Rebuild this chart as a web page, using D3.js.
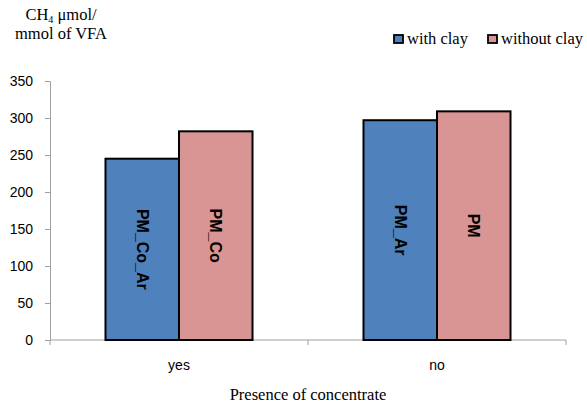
<!DOCTYPE html>
<html><head><meta charset="utf-8">
<script src="https://cdn.jsdelivr.net/npm/d3@7"></script>
<style>body{margin:0;background:#fff}</style>
</head><body>
<svg id="c" width="587" height="406"></svg>
<script>
const categories = ["yes", "no"];
const seriesNames = ["with clay", "without clay"];
const withClay = [245, 297];
const withoutClay = [282, 309];
const barLabels = [["PM_Co_Ar", "PM_Co"], ["PM_Ar", "PM"]];
const yTicks = [0, 50, 100, 150, 200, 250, 300, 350];
const colors = ["#4F81BD", "#D99594"];

const svg = d3.select("#c");
const m = {l: 50, r: 21, t: 81, b: 66};
const W = 587, H = 406;
const x = d3.scaleBand().domain(categories).range([m.l, W - m.r]).paddingInner(0).paddingOuter(0);
const x1 = d3.scaleBand().domain([0, 1]).range([0, x.bandwidth()]).paddingInner(0).paddingOuter(0.755);
const y = d3.scaleLinear().domain([0, 350]).range([H - m.b, m.t]);

const data = categories.map((c, i) => ({c, vals: [withClay[i], withoutClay[i]], labels: barLabels[i]}));

// axes
const yAxis = svg.append("g").attr("transform", `translate(${m.l},0)`)
  .call(d3.axisLeft(y).tickValues(yTicks).tickSize(5).tickPadding(12));
yAxis.select(".domain").attr("stroke", "#a0a0a0").attr("stroke-width", 1);
yAxis.selectAll(".tick line").attr("stroke", "#a0a0a0");
yAxis.selectAll("text").attr("font-family", "Liberation Sans, Arial, sans-serif").attr("font-size", 14).attr("fill", "#000");

const xAxisG = svg.append("g").attr("transform", `translate(0,${H - m.b})`);
xAxisG.append("line").attr("x1", m.l).attr("x2", W - m.r).attr("stroke", "#a0a0a0");
const bounds = [m.l, x("no"), W - m.r];
bounds.forEach(b => xAxisG.append("line").attr("x1", b).attr("x2", b).attr("y1", 0).attr("y2", 5).attr("stroke", "#a0a0a0"));
categories.forEach(c => xAxisG.append("text").attr("x", x(c) + x.bandwidth() / 2).attr("y", 30)
  .attr("text-anchor", "middle").attr("font-family", "Liberation Sans, Arial, sans-serif").attr("font-size", 14).text(c));

// bars
const g = svg.selectAll(".grp").data(data).enter().append("g").attr("transform", d => `translate(${x(d.c)},0)`);
g.selectAll("rect").data(d => d.vals.map((v, j) => ({v, j}))).enter().append("rect")
  .attr("x", d => x1(d.j)).attr("width", x1.bandwidth())
  .attr("y", d => y(d.v)).attr("height", d => y(0) - y(d.v))
  .attr("fill", d => colors[d.j]).attr("stroke", "#000").attr("stroke-width", 2);
g.selectAll("text.lbl").data(d => d.vals.map((v, j) => ({v, j, t: d.labels[j]}))).enter().append("text")
  .attr("class", "lbl")
  .attr("transform", d => `translate(${x1(d.j) + x1.bandwidth() / 2},${(y(d.v) + y(0)) / 2}) rotate(90)`)
  .attr("text-anchor", "middle").attr("dy", "0.35em")
  .attr("font-family", "Liberation Sans, Arial, sans-serif").attr("font-weight", "bold").attr("font-size", 16)
  .text(d => d.t);

// y title
const yt = svg.append("text").attr("font-family", "Liberation Serif, Times New Roman, serif").attr("font-size", 16.5).attr("text-anchor", "middle");
const t1 = yt.append("tspan").attr("x", 61).attr("y", 20);
t1.append("tspan").text("CH");
t1.append("tspan").attr("font-size", 10).attr("dy", 3).text("4");
t1.append("tspan").attr("dy", -3).text(" μmol/");
yt.append("tspan").attr("x", 61).attr("y", 39).text("mmol of VFA");

// x title
svg.append("text").attr("x", x("no")).attr("y", 400).attr("text-anchor", "middle")
  .attr("font-family", "Liberation Serif, Times New Roman, serif").attr("font-size", 16.5).text("Presence of concentrate");

// legend
const legX = [394, 488];
seriesNames.forEach((s, i) => {
  svg.append("rect").attr("x", legX[i]).attr("y", 35).attr("width", 9).attr("height", 8)
    .attr("fill", colors[i]).attr("stroke", "#000").attr("stroke-width", 1.8);
  svg.append("text").attr("x", legX[i] + 13).attr("y", 44)
    .attr("font-family", "Liberation Serif, Times New Roman, serif").attr("font-size", 16.5).text(s);
});
</script>
</body></html>
